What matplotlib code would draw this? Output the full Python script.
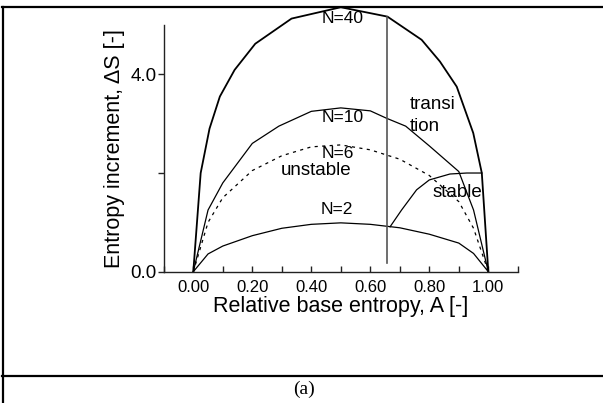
import matplotlib
matplotlib.use("Agg")
import matplotlib.pyplot as plt
from matplotlib.lines import Line2D

plt.rcParams['font.family'] = ['Liberation Sans', 'DejaVu Sans']

# ---- data ----
x_n40 = [0.0, 0.025, 0.055, 0.09, 0.14, 0.21, 0.333, 0.5, 0.658, 0.774, 0.836, 0.893, 0.949, 0.978, 1.0]
y_n40 = [0.0, 2.0, 2.9, 3.55, 4.09, 4.62, 5.13, 5.36, 5.17, 4.70, 4.26, 3.75, 2.81, 2.0, 0.0]

x_n10 = [0.0, 0.05, 0.1, 0.2, 0.29, 0.4, 0.5, 0.6, 0.655, 0.72, 0.8, 0.9, 0.95, 1.0]
y_n10 = [0.0, 1.25, 1.8, 2.6, 2.95, 3.25, 3.32, 3.26, 3.11, 2.95, 2.55, 2.03, 1.25, 0.0]

x_n6 = [0.0, 0.05, 0.1, 0.2, 0.3, 0.4, 0.5, 0.6, 0.7, 0.8, 0.9, 0.95, 1.0]
y_n6 = [0.0, 1.0, 1.5, 2.05, 2.35, 2.53, 2.57, 2.47, 2.28, 1.95, 1.42, 0.88, 0.0]

x_n2 = [0.0, 0.05, 0.1, 0.2, 0.3, 0.4, 0.5, 0.6, 0.7, 0.8, 0.9, 0.95, 1.0]
y_n2 = [0.0, 0.36, 0.52, 0.73, 0.88, 0.96, 0.99, 0.96, 0.89, 0.76, 0.58, 0.37, 0.0]

x_stable = [0.667, 0.706, 0.757, 0.80, 0.87, 0.927, 0.978]
y_stable = [0.91, 1.25, 1.66, 1.86, 1.98, 2.0, 2.0]

x_transition = [0.658, 0.658]
y_transition = [0.17, 5.17]

x_ticks = [0.0, 0.2, 0.4, 0.6, 0.8, 1.0]
x_ticklabels = ["0.00", "0.20", "0.40", "0.60", "0.80", "1.00"]
x_minor = [-0.1, 0.1, 0.3, 0.5, 0.7, 0.9, 1.1]
y_ticks = [0.0, 2.0, 4.0]
y_ticklabels = ["0.0", "", "4.0"]

# ---- figure ----
W, H = 603, 403
fig = plt.figure(figsize=(W / 100, H / 100), dpi=100)

# frame lines of the surrounding table
fig.add_artist(Line2D([3 / W, 3 / W], [0, 1 - 6.5 / H], transform=fig.transFigure, color='black', lw=1.6))
fig.add_artist(Line2D([2 / W, 1], [1 - 6.5 / H, 1 - 6.5 / H], transform=fig.transFigure, color='black', lw=1.6))
fig.add_artist(Line2D([2 / W, 1], [1 - 375.5 / H, 1 - 375.5 / H], transform=fig.transFigure, color='black', lw=1.6))
fig.text(304 / W, 1 - 389 / H, "(a)", family='Liberation Serif', fontsize=14, ha='center', va='center')

left = 163.8 / W
right = 517.8 / W
bottom = 1 - 271.7 / H
top = 1 - 25.0 / H
ax = fig.add_axes([left, bottom, right - left, top - bottom])
ax.set_xlim(-0.1, 1.1)
ax.set_ylim(0.0, 5.0)

for s in ['top', 'right']:
    ax.spines[s].set_visible(False)
for s in ['left', 'bottom']:
    ax.spines[s].set_linewidth(1.0)
    ax.spines[s].set_color('#222222')

ax.plot(x_n40, y_n40, color='black', lw=1.3, clip_on=False)
ax.plot(x_n10, y_n10, color='black', lw=0.9, clip_on=False)
ax.plot(x_n6, y_n6, color='black', lw=0.9, ls=(0, (2.5, 3.5)), clip_on=False)
ax.plot(x_n2, y_n2, color='black', lw=0.9, clip_on=False)
ax.plot(x_stable, y_stable, color='black', lw=0.9, clip_on=False)
ax.plot(x_transition, y_transition, color='#555555', lw=1.2, clip_on=False)

ax.set_xticks(x_ticks)
ax.set_xticklabels(x_ticklabels, fontsize=12)
ax.set_xticks(x_minor, minor=True)
ax.tick_params(axis='x', which='both', direction='in', length=4, width=1.0, color='#222222', pad=6)
ax.set_yticks(y_ticks)
ax.set_yticklabels(y_ticklabels, fontsize=13.5)
ax.tick_params(axis='y', direction='out', length=4, width=1.0, color='#222222', pad=1)

ax.set_xlabel("Relative base entropy, A [-]", fontsize=15.5, labelpad=1)
ax.set_ylabel("Entropy increment, \u0394S [-]", fontsize=15.5, labelpad=4)

lab = dict(ha='center', va='center', fontsize=12.5)
ax.text(0.505, 5.14, "N=40", **lab)
ax.text(0.505, 3.13, "N=10", **lab)
ax.text(0.49, 2.39, "N=6", **lab)
ax.text(0.488, 1.27, "N=2", **lab)
reg = dict(va='center', fontsize=13.5)
ax.text(0.416, 2.05, "unstable", ha='center', **reg)
ax.text(0.733, 3.38, "transi", ha='left', **reg)
ax.text(0.733, 2.94, "tion", ha='left', **reg)
ax.text(0.896, 1.60, "stable", ha='center', **reg)

fig.savefig("out.png", dpi=100)
